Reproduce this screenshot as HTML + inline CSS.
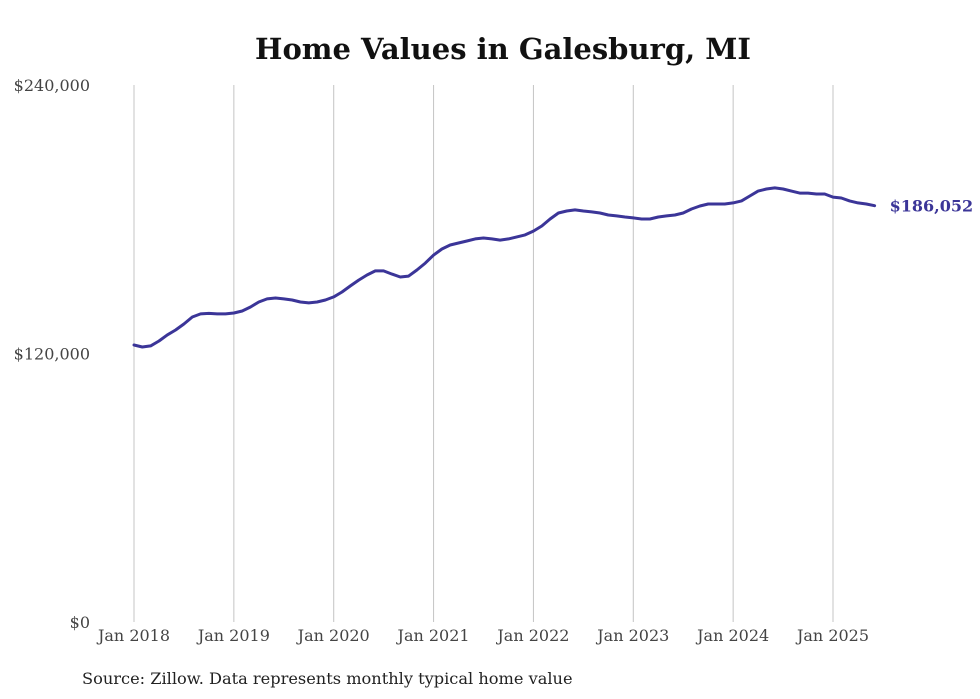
<!DOCTYPE html>
<html><head><meta charset="utf-8"><style>
body{margin:0;background:#fff;}
svg{display:block;font-family:"DejaVu Serif","Liberation Serif",serif;}
</style></head><body>
<svg id="chart" width="980" height="699">
<text x="503" y="59" text-anchor="middle" font-size="29" font-weight="bold" fill="#111">Home Values in Galesburg, MI</text>
<g id="grid"></g><g id="yaxis"></g><g id="xaxis"></g><g id="series"></g>
<text x="82" y="684" font-size="16.2" fill="#222">Source: Zillow. Data represents monthly typical home value</text>
</svg>
<script>
const yTicks=[0,120000,240000];
const yTickLabels=["$0","$120,000","$240,000"];
const xYears=[2018,2019,2020,2021,2022,2023,2024,2025];
const xTickLabels=["Jan 2018","Jan 2019","Jan 2020","Jan 2021","Jan 2022","Jan 2023","Jan 2024","Jan 2025"];
const startYear=2018;
const values=[
123.8,122.9,123.4,125.6,128.3,130.5,133.2,136.3,137.7,137.9,137.7,137.7,
138.1,139.0,140.8,143.0,144.4,144.8,144.4,143.9,143.0,142.6,143.0,143.9,
145.3,147.5,150.2,152.8,155.1,156.9,156.9,155.5,154.2,154.6,157.3,160.4,
164.0,166.7,168.5,169.4,170.3,171.2,171.6,171.2,170.7,171.2,172.1,173.0,
174.7,177.0,180.1,182.8,183.7,184.2,183.7,183.3,182.8,181.9,181.5,181.0,
180.6,180.1,180.1,181.0,181.5,181.9,182.8,184.6,185.9,186.8,186.8,186.8,
187.3,188.2,190.4,192.6,193.5,194.0,193.5,192.6,191.7,191.7,191.3,191.3,
189.9,189.5,188.2,187.3,186.8,186.052].map(v=>v*1000);
const lastLabel="$186,052";
const NS="http://www.w3.org/2000/svg";
const y=v=>622-v/240000*537;
const x=m=>134+m*(699/84);
function mk(tag,attrs,parent,txt){const e=document.createElementNS(NS,tag);for(const k in attrs)e.setAttribute(k,attrs[k]);if(txt!==undefined)e.textContent=txt;document.getElementById(parent).appendChild(e);return e;}
xYears.forEach((yr,i)=>{
 const xx=x((yr-startYear)*12);
 const g=mk('line',{x1:xx,x2:xx,y1:85,y2:622,stroke:'#c4c4c4','stroke-width':1},'grid');
 
 
 const t=mk('text',{x:xx,y:641,'text-anchor':'middle','font-size':16,fill:'#444'},'xaxis',xTickLabels[i]);
 
 
});
yTicks.forEach((v,i)=>{
 const t=mk('text',{x:90,y:y(v)+6,'text-anchor':'end','font-size':16,fill:'#444'},'yaxis',yTickLabels[i]);
 
 
});
const d=values.map((v,i)=>(i?'L':'M')+x(i).toFixed(1)+','+y(v).toFixed(1)).join(' ');
const p=mk('path',{d:d,fill:'none',stroke:'#3b3598','stroke-width':3,'stroke-linejoin':'round','stroke-linecap':'round'},'series');


const li=values.length-1;
const lab=mk('text',{x:x(li)+15,y:y(values[li])+6,'font-size':16,'font-weight':'bold',fill:'#3b3598'},'series',lastLabel);


</script>
</body></html>
